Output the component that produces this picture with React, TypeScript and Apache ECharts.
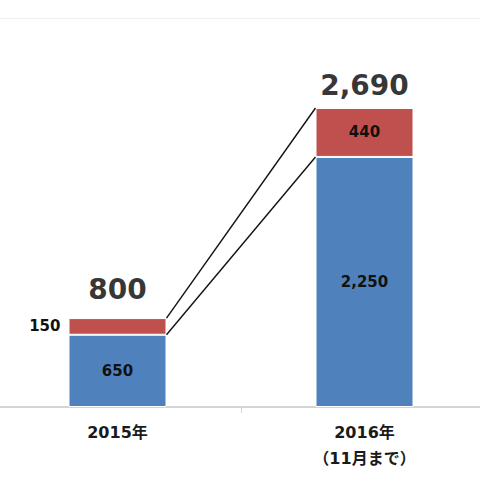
import React, { useEffect, useRef } from "react";
import * as echarts from "echarts";

const categories = ["2015年", "2016年\n（11月まで）"];
const baseValues = [650, 2250];
const topValues = [150, 440];
const totals = baseValues.map((v, i) => v + topValues[i]);

const BLUE = "#4f81bd";
const RED = "#c0504d";
const FONT = "'DejaVu Sans', 'Noto Sans CJK JP', sans-serif";
const BAR_W = 98;

const fmt = (v: number) => v.toLocaleString("en-US");

export default function App() {
  const ref = useRef<HTMLDivElement>(null);
  useEffect(() => {
    if (!ref.current) return;
    const chart = echarts.init(ref.current, undefined, { renderer: "svg" });
    chart.setOption({
      animation: false,
      backgroundColor: "#ffffff",
      grid: { left: 0, right: 0, top: 18, bottom: 73, containLabel: false },
      xAxis: {
        type: "category",
        data: categories,
        axisLine: { show: true, lineStyle: { color: "#d4d4d4", width: 2 } },
        axisTick: { show: true, length: 6, lineStyle: { color: "#d4d4d4", width: 1 } },
        axisLabel: {
          margin: 12,
          fontFamily: FONT,
          fontSize: 16,
          fontWeight: "bold",
          color: "#1a1a1a",
          lineHeight: 26,
        },
      },
      yAxis: {
        type: "value",
        min: 0,
        max: 3500,
        interval: 3500,
        axisLine: { show: false },
        axisTick: { show: false },
        axisLabel: { show: false },
        splitLine: { show: true, lineStyle: { color: "#f1f1f1", width: 1 } },
      },
      series: [
        {
          type: "bar",
          stack: "total",
          barWidth: BAR_W,
          data: baseValues,
          itemStyle: { color: BLUE, borderColor: "#ffffff", borderWidth: 1 },
          label: {
            show: true,
            position: "inside",
            formatter: (p: any) => fmt(p.value),
            fontFamily: FONT,
            fontSize: 15,
            fontWeight: "bold",
            color: "#111",
          },
        },
        {
          type: "bar",
          stack: "total",
          barWidth: BAR_W,
          data: topValues.map((v, i) =>
            i === 0
              ? { value: v, label: { position: "left", distance: 8 } }
              : { value: v }
          ),
          itemStyle: { color: RED, borderColor: "#ffffff", borderWidth: 1 },
          label: {
            show: true,
            position: "inside",
            formatter: (p: any) => fmt(p.value),
            fontFamily: FONT,
            fontSize: 15,
            fontWeight: "bold",
            color: "#111",
          },
        },
        {
          type: "scatter",
          symbolSize: 0,
          silent: true,
          data: totals.map((v, i) => ({
            value: [i, v],
            label: { distance: i === 0 ? 15 : 9 },
          })),
          label: {
            show: true,
            position: "top",
            formatter: (p: any) => fmt(p.value[1]),
            fontFamily: FONT,
            fontSize: 28,
            fontWeight: "bold",
            color: "#000",
          },
          z: 5,
        },
        {
          type: "custom",
          silent: true,
          encode: { x: [0, 2], y: [1, 3] },
          data: [
            [0, totals[0], 1, totals[1]],
            [0, baseValues[0], 1, baseValues[1]],
          ],
          renderItem: (_params: any, api: any) => {
            const p1 = api.coord([api.value(0), api.value(1)]);
            const p2 = api.coord([api.value(2), api.value(3)]);
            const half = BAR_W / 2;
            return {
              type: "line",
              shape: { x1: p1[0] + half, y1: p1[1], x2: p2[0] - half, y2: p2[1] },
              style: { stroke: "#111", lineWidth: 1.4 },
            };
          },
          z: 6,
        },
      ],
    });
    return () => chart.dispose();
  }, []);
  return (
    <div
      style={{
        position: "absolute",
        left: 0,
        top: 0,
        width: 480,
        height: 480,
        overflow: "hidden",
        background: "#fff",
      }}
    >
      <div
        ref={ref}
        style={{ position: "absolute", left: -6.5, top: 0, width: 494, height: 480 }}
      />
    </div>
  );
}
